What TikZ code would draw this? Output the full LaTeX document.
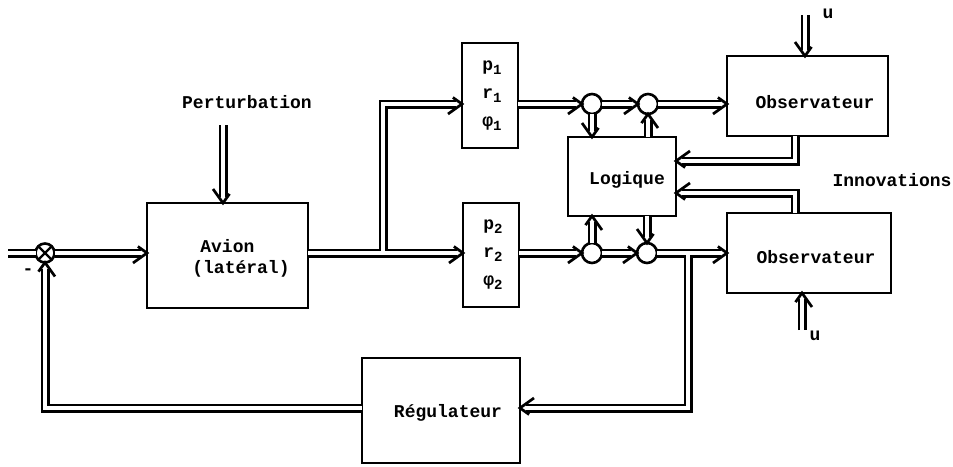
\documentclass[tikz,border=0pt]{standalone}
\usepackage{fontspec}
\setmainfont{Liberation Mono}
\usetikzlibrary{decorations.markings}
\newcommand{\subidx}[1]{\raisebox{-0.45ex}{\fontsize{14}{14}\selectfont #1}}
\begin{document}
\begin{tikzpicture}[x=1pt,y=-1pt,
  every node/.style={font=\fontsize{18}{28}\selectfont\bfseries},
  blk/.style={draw, line width=2.8pt, inner sep=0pt, outer sep=0pt},
  junc/.style={draw, circle, line width=2.6pt, minimum size=20pt, inner sep=0pt, outer sep=0pt, fill=white},
  dbl/.style={draw, line width=2.5pt, double distance=4pt, line join=miter},
  dar/.style={dbl, shorten >=6pt,
    postaction={decorate, decoration={markings,
      mark=at position 1 with {\draw[line width=2.7pt, line join=miter] (-14pt,-10pt) -- (0pt,0pt) -- (-14pt,10pt);}}}},
  lbl/.style={inner sep=0pt}]
\useasboundingbox (0,0) rectangle (953,466);

% blocks
\node[blk, minimum width=161pt, minimum height=105pt] (avion) at (227.5,255.5) {};
\node[blk, minimum width=56pt, minimum height=105pt] (p1) at (490,95.5) {};
\node[blk, minimum width=56pt, minimum height=104pt] (p2) at (491,255) {};
\node[blk, minimum width=108pt, minimum height=79pt] (logique) at (622,176.5) {};
\node[blk, minimum width=161pt, minimum height=80pt] (obs1) at (807.5,96) {};
\node[blk, minimum width=164pt, minimum height=80pt] (obs2) at (809,253) {};
\node[blk, minimum width=158pt, minimum height=105pt] (reg) at (441,410.5) {};

% junctions
\node[junc, minimum size=19pt] (sum) at (45,253) {};
\node[junc] (c1) at (592,104) {};
\node[junc] (c2) at (648,104) {};
\node[junc] (c3) at (592,253) {};
\node[junc] (c4) at (647,253) {};

% labels
\node[lbl] (perturb) at (247,102) {Perturbation};
\node[lbl, align=left, font=\fontsize{18}{21}\selectfont\bfseries] (avionlbl) at (241,258) {\hspace*{8pt}Avion\\(latéral)};
\node[lbl, align=center] (p1lbl) at ([xshift=2pt]p1.center) {p\subidx{1}\\r\subidx{1}\\φ\subidx{1}};
\node[lbl, align=center] (p2lbl) at ([xshift=2pt]p2.center) {p\subidx{2}\\r\subidx{2}\\φ\subidx{2}};
\node[lbl] (loglbl) at (627,180) {Logique};
\node[lbl] (obs1lbl) at (815,102) {Observateur};
\node[lbl] (obs2lbl) at (816,257) {Observateur};
\node[lbl] (reglbl) at (448,413) {Régulateur};
\node[lbl] (innov) at (892,180) {Innovations};
\node[lbl] (u1lbl) at (828,14) {u};
\node[lbl] (u2lbl) at (815,336) {u};
\node[lbl] (minus) at (28,272) {-};

% cross in summing junction
\draw[line width=2.4pt] (sum.north west) -- (sum.south east)
                      (sum.north east) -- (sum.south west);

% coordinates
\coordinate (in) at (8,253);
\coordinate (br) at (383,251);
\coordinate (brt) at (383,104);
\coordinate (o1) at (795,161);
\coordinate (o2) at (795,193);
\coordinate (u1) at (805,15);
\coordinate (u2) at (802,330);
\coordinate (pt) at (223,125);
\coordinate (fb) at (688,255);
\coordinate (fbd) at (688,408);
\coordinate (fbl) at (45,408);

% connectors
\draw[dbl] (in) -- (sum);
\draw[dar] (sum) -- (avion.west |- sum);
\draw[dar] (avion.east |- c3) -- (p2.west |- c3);
\draw[dar] (br) -- (brt) -- (p1.west |- c1);
\draw[dar] (p1.east |- c1) -- (c1);
\draw[dar] (c1) -- (c2);
\draw[dar] (c2) -- (obs1.west |- c2);
\draw[dar] (p2.east |- c3) -- (c3);
\draw[dar] (c3) -- (c4);
\draw[dar] (c4) -- (obs2.west |- c4);
\draw[dar] (c1) -- (logique.north -| c1);
\draw[dar] (logique.north -| c2) -- (c2);
\draw[dar] (c3) -- (logique.south -| c3);
\draw[dar] (logique.south -| c4) -- (c4);
\draw[dar] (obs1.south -| o1) -- (o1) -- (logique.east |- o1);
\draw[dar] (obs2.north -| o2) -- (o2) -- (logique.east |- o2);
\draw[dar] (u1) -- (obs1.north -| u1);
\draw[dar] (u2) -- (obs2.south -| u2);
\draw[dar] (pt) -- (avion.north -| pt);
\draw[dar] (fb) -- (fbd) -- (reg.east |- fbd);
\draw[dar] (reg.west |- fbl) -- (fbl) -- (sum);
\end{tikzpicture}
\end{document}
